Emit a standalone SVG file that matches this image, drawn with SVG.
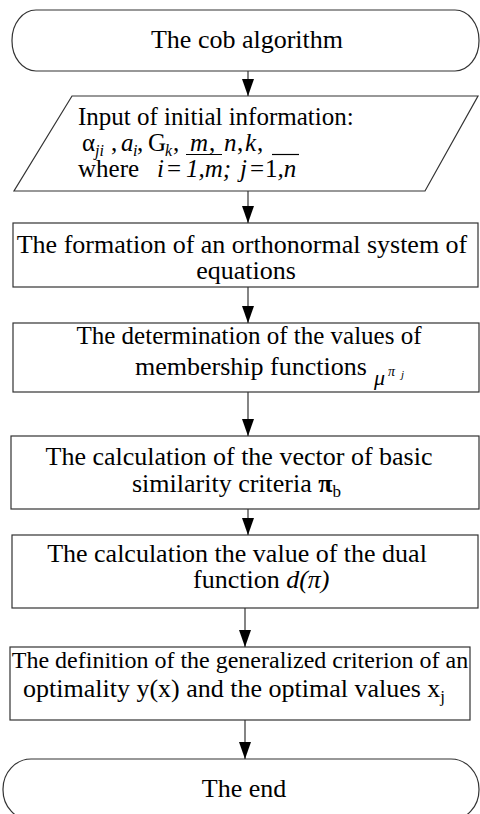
<svg xmlns="http://www.w3.org/2000/svg" width="480" height="814" viewBox="0 0 480 814">
<style>
.s{fill:#fff;stroke:#333;stroke-width:1.2}
.t{font-family:'Liberation Serif','Times New Roman','DejaVu Serif',serif;font-size:26px;fill:#000}
.p{font-size:25px}
.m{text-anchor:middle}
.i{font-style:italic}
.c{stroke:#333;stroke-width:1.2;fill:none;marker-end:url(#ah)}
</style>
<defs>
<marker id="ah" markerUnits="userSpaceOnUse" markerWidth="17" markerHeight="12" viewBox="0 0 17 12" refX="17" refY="6" orient="auto">
<path d="M0,0 L17,6 L0,12 Z" fill="#000"/>
</marker>
</defs>
<rect width="480" height="814" fill="#fff"/>
<g id="start">
<rect class="s" x="12" y="10" width="467" height="61" rx="24" ry="30"/>
<text class="t m" x="247" y="48">The cob algorithm</text>
</g>
<g id="input">
<polygon class="s" points="72,96 478,96 425,191 14,191"/>
<text class="t p" x="78" y="125">Input of initial information:</text>
<text class="t p" y="151"><tspan x="82">α</tspan><tspan x="95" y="156" class="i" style="font-size:16px">ji</tspan><tspan x="111" y="151">,</tspan><tspan x="121" class="i">a</tspan><tspan x="133" y="156" class="i" style="font-size:16px">i</tspan><tspan x="137" y="151">,</tspan><tspan x="148">G</tspan><tspan x="165" y="156" class="i" style="font-size:16px">k</tspan><tspan x="173" y="151">,</tspan><tspan x="190" class="i">m</tspan><tspan x="209">,</tspan><tspan x="224" class="i">n</tspan><tspan x="237">,</tspan><tspan x="245" class="i">k</tspan><tspan x="257">,</tspan></text>
<line x1="186" y1="154.5" x2="222" y2="154.5" stroke="#000" stroke-width="1.2"/>
<line x1="272" y1="154.5" x2="299" y2="154.5" stroke="#000" stroke-width="1.2"/>
<text class="t p" y="177"><tspan x="78">where</tspan><tspan x="157" class="i">i</tspan><tspan x="167">=</tspan><tspan x="186" class="i">1,m;</tspan><tspan x="240" class="i">j</tspan><tspan x="250">=</tspan><tspan x="265">1</tspan><tspan class="i">,n</tspan></text>
</g>
<g id="formation">
<rect class="s" x="13" y="223" width="465" height="64"/>
<text class="t m" x="242" y="253">The formation of an orthonormal system of</text>
<text class="t m" x="246" y="279">equations</text>
</g>
<g id="determination">
<rect class="s" x="13" y="323" width="466" height="69"/>
<text class="t m" x="249" y="344" style="font-size:25px">The determination of the values of</text>
<text class="t" x="135" y="375">membership functions</text>
<text class="t i" x="374" y="385" style="font-size:22px">μ</text>
<text class="t i" x="388" y="376" style="font-size:14px">π</text>
<text class="t i" x="401" y="378" style="font-size:11px">j</text>
</g>
<g id="vector">
<rect class="s" x="11" y="436" width="468" height="73"/>
<text class="t m" x="239" y="465">The calculation of the vector of basic</text>
<text class="t" x="132" y="492">similarity criteria <tspan font-weight="bold">π</tspan><tspan style="font-size:17px" dy="5">b</tspan></text>
</g>
<g id="dual">
<rect class="s" x="12" y="535" width="466" height="73"/>
<text class="t m" x="237" y="562">The calculation the value of the dual</text>
<text class="t" x="193" y="588">function <tspan class="i">d(π)</tspan></text>
</g>
<g id="definition">
<rect class="s" x="10" y="647" width="460" height="73"/>
<text class="t m" x="240" y="668" style="font-size:24px">The definition of the generalized criterion of an</text>
<text class="t" x="23" y="697">optimality y(x) and the optimal values x<tspan style="font-size:17px" dy="5">j</tspan></text>
</g>
<g id="end">
<rect class="s" x="3" y="759" width="476" height="61" rx="28" ry="30"/>
<text class="t m" x="244" y="797">The end</text>
</g>
<g id="connectors">
<line class="c" x1="248" y1="71" x2="248" y2="96"/>
<line class="c" x1="248" y1="191" x2="248" y2="223"/>
<line class="c" x1="248" y1="287" x2="248" y2="323"/>
<line class="c" x1="248" y1="392" x2="248" y2="436"/>
<line class="c" x1="248" y1="509" x2="248" y2="535"/>
<line class="c" x1="245" y1="608" x2="245" y2="647"/>
<line class="c" x1="245" y1="720" x2="245" y2="759"/>
</g>
</svg>
